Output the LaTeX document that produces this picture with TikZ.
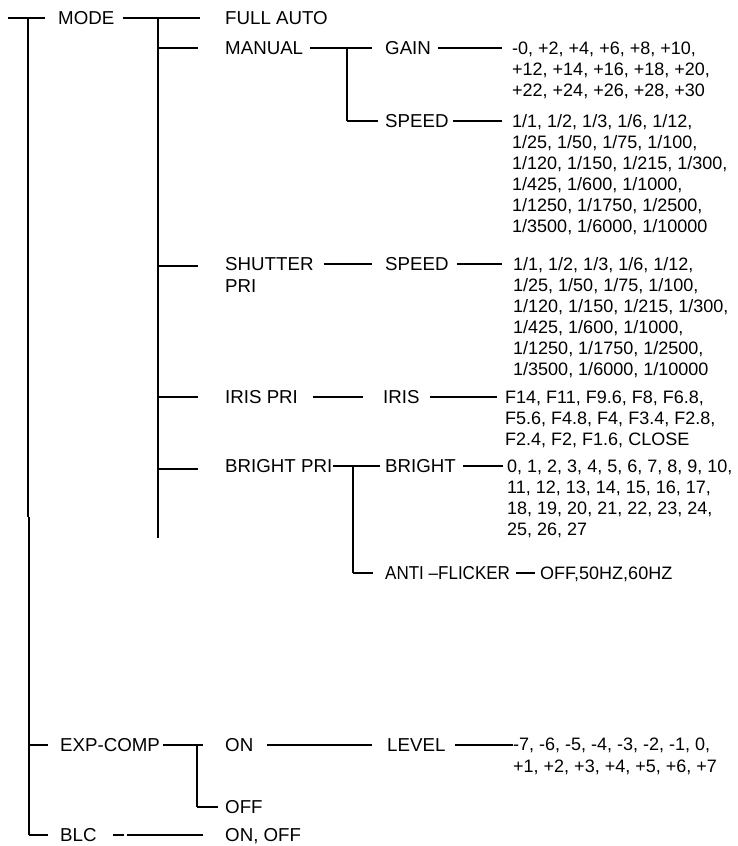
\documentclass[tikz,border=0pt]{standalone}
\usepackage{fontspec}
\setmainfont{Liberation Sans}
\newcommand{\lblfont}{\fontsize{18.7pt}{22pt}\selectfont}
\newcommand{\valfont}{\fontsize{18pt}{21pt}\selectfont}
\newcommand{\valfontb}{\fontsize{18pt}{22pt}\selectfont}
\begin{document}
\begin{tikzpicture}[x=1pt,y=-1pt,
  lbl/.style={anchor=west,inner sep=0pt,font=\lblfont,text height=13.4pt,text depth=0pt},
  lblml/.style={anchor=north west,inner sep=0pt,font=\lblfont,align=left},
  vals/.style={anchor=north west,inner sep=0pt,font=\valfont,align=left},
  hl/.style={line width=1.2pt},
  vl/.style={line width=2pt},
  sl/.style={line width=1.6pt}]
\useasboundingbox (0,0) rectangle (738,846);

% labels
\node[lbl] (mode) at (58,18) {MODE};
\node[lbl] (fullauto) at (225,18) {FULL AUTO};
\node[lbl] (manual) at (225,48) {MANUAL};
\node[lbl] (gain) at (385,48) {GAIN};
\node[lbl] (speedA) at (385,121) {SPEED};
\node[lblml] (shutter) at (225,257.3) {SHUTTER\\PRI};
\node[lbl] (speedB) at (385,264) {SPEED};
\node[lbl] (irispri) at (225,397) {IRIS PRI};
\node[lbl] (iris) at (383,397) {IRIS};
\node[lbl] (brightpri) at (225,466) {BRIGHT PRI};
\node[lbl] (bright) at (385,466) {BRIGHT};
\node[lbl] (anti) at (385,573) {\addfontfeature{FakeStretch=0.91}ANTI –FLICKER};
\node[lbl] (expcomp) at (60,745) {EXP-COMP};
\node[lbl] (on) at (225,745) {ON};
\node[lbl] (level) at (387,745) {LEVEL};
\node[lbl] (off) at (225,807) {OFF};
\node[lbl] (blc) at (60,835) {BLC};
\node[lbl] (onoff) at (225,835) {ON, OFF};

% value lists
\node[vals] (gainv) at (512,41.5) {-0, +2, +4, +6, +8, +10,\\+12, +14, +16, +18, +20,\\+22, +24, +26, +28, +30};
\node[vals] (speedAv) at (512,114.5) {1/1, 1/2, 1/3, 1/6, 1/12,\\1/25, 1/50, 1/75, 1/100,\\1/120, 1/150, 1/215, 1/300,\\1/425, 1/600, 1/1000,\\1/1250, 1/1750, 1/2500,\\1/3500, 1/6000, 1/10000};
\node[vals] (speedBv) at (513,257.5) {1/1, 1/2, 1/3, 1/6, 1/12,\\1/25, 1/50, 1/75, 1/100,\\1/120, 1/150, 1/215, 1/300,\\1/425, 1/600, 1/1000,\\1/1250, 1/1750, 1/2500,\\1/3500, 1/6000, 1/10000};
\node[vals] (irisv) at (505,390.5) {F14, F11, F9.6, F8, F6.8,\\F5.6, F4.8, F4, F3.4, F2.8,\\F2.4, F2, F1.6, CLOSE};
\node[vals] (brightv) at (507,459.5) {0, 1, 2, 3, 4, 5, 6, 7, 8, 9, 10,\\11, 12, 13, 14, 15, 16, 17,\\18, 19, 20, 21, 22, 23, 24,\\25, 26, 27};
\node[vals] (antiv) at (540,566.5) {OFF,50HZ,60HZ};
\node[vals,font=\valfontb] (levelv) at (513,738) {-7, -6, -5, -4, -3, -2, -1, 0,\\+1, +2, +3, +4, +5, +6, +7};

% junction coordinates
\coordinate (r0) at (8,18);
\coordinate (ra) at (28,18);
\coordinate (rb) at (28,517);
\coordinate (rc) at (29,517);
\coordinate (rd) at (29,835);
\coordinate (rexp) at (29,745);
\coordinate (ma) at (158,18);
\coordinate (mb) at (158,538);
\coordinate (jman) at (158,48);
\coordinate (jshut) at (158,266);
\coordinate (jiris) at (158,397);
\coordinate (jbri) at (158,469);
\coordinate (ga) at (347,48);
\coordinate (gb) at (347,121);
\coordinate (ba) at (353,466);
\coordinate (bb) at (353,573);
\coordinate (ea) at (197,745);
\coordinate (eb) at (197,807);

% main trunk
\draw[vl] (ra) -- (rb);
\draw[vl] (rc) -- (rd);
\draw[hl,shorten >=13] (r0) -- (mode.west);
\draw[hl,shorten >=12] (rexp) -- (expcomp.west);
\draw[hl,shorten >=12] (rd) -- (blc.west);

% MODE subtree
\draw[hl,shorten <=8,shorten >=25] (mode.east) -- (fullauto.west);
\draw[vl] (ma) -- (mb);
\draw[hl,shorten >=27] (jman) -- (manual.west);
\draw[hl,shorten >=27] (jshut) -- (jshut -| shutter.west);
\draw[hl,shorten >=27] (jiris) -- (irispri.west);
\draw[hl,shorten >=27] (jbri) -- (jbri -| brightpri.west);

% MANUAL
\draw[hl,shorten <=7,shorten >=13] (manual.east) -- (gain.west);
\draw[sl] (ga) -- (gb);
\draw[hl,shorten >=7] (gb) -- (speedA.west);
\draw[hl,shorten <=7,shorten >=10] (gain.east) -- (gain.east -| gainv.west);
\draw[hl,shorten <=4,shorten >=10] (speedA.east) -- (speedA.east -| speedAv.west);

% SHUTTER PRI
\draw[hl,shorten <=10,shorten >=13] ([yshift=-6.7pt]shutter.north east) -- (speedB.west);
\draw[hl,shorten <=8.6,shorten >=11] (speedB.east) -- (speedB.east -| speedBv.west);

% IRIS PRI
\draw[hl,shorten <=15,shorten >=20] (irispri.east) -- (iris.west);
\draw[hl,shorten <=10,shorten >=8] (iris.east) -- (iris.east -| irisv.west);

% BRIGHT PRI
\draw[hl,shorten <=1,shorten >=5] (brightpri.east) -- (bright.west);
\draw[sl] (ba) -- (bb);
\draw[hl,shorten >=12] (bb) -- (anti.west);
\draw[hl,shorten <=7,shorten >=4] (bright.east) -- (bright.east -| brightv.west);
\draw[hl,shorten <=6,shorten >=5] (anti.east) -- (anti.east -| antiv.west);

% EXP-COMP
\draw[hl,shorten <=3,shorten >=22] (expcomp.east) -- (on.west);
\draw[sl] (ea) -- (eb);
\draw[hl,shorten >=7] (eb) -- (off.west);
\draw[hl,shorten <=14,shorten >=15] (on.east) -- (level.west);
\draw[hl,shorten <=9] (level.east) -- (level.east -| levelv.west);

% BLC
\draw[hl,shorten <=16.6,shorten >=22,dash pattern=on 11pt off 3pt on 300pt] (blc.east) -- (onoff.west);
\end{tikzpicture}
\end{document}
